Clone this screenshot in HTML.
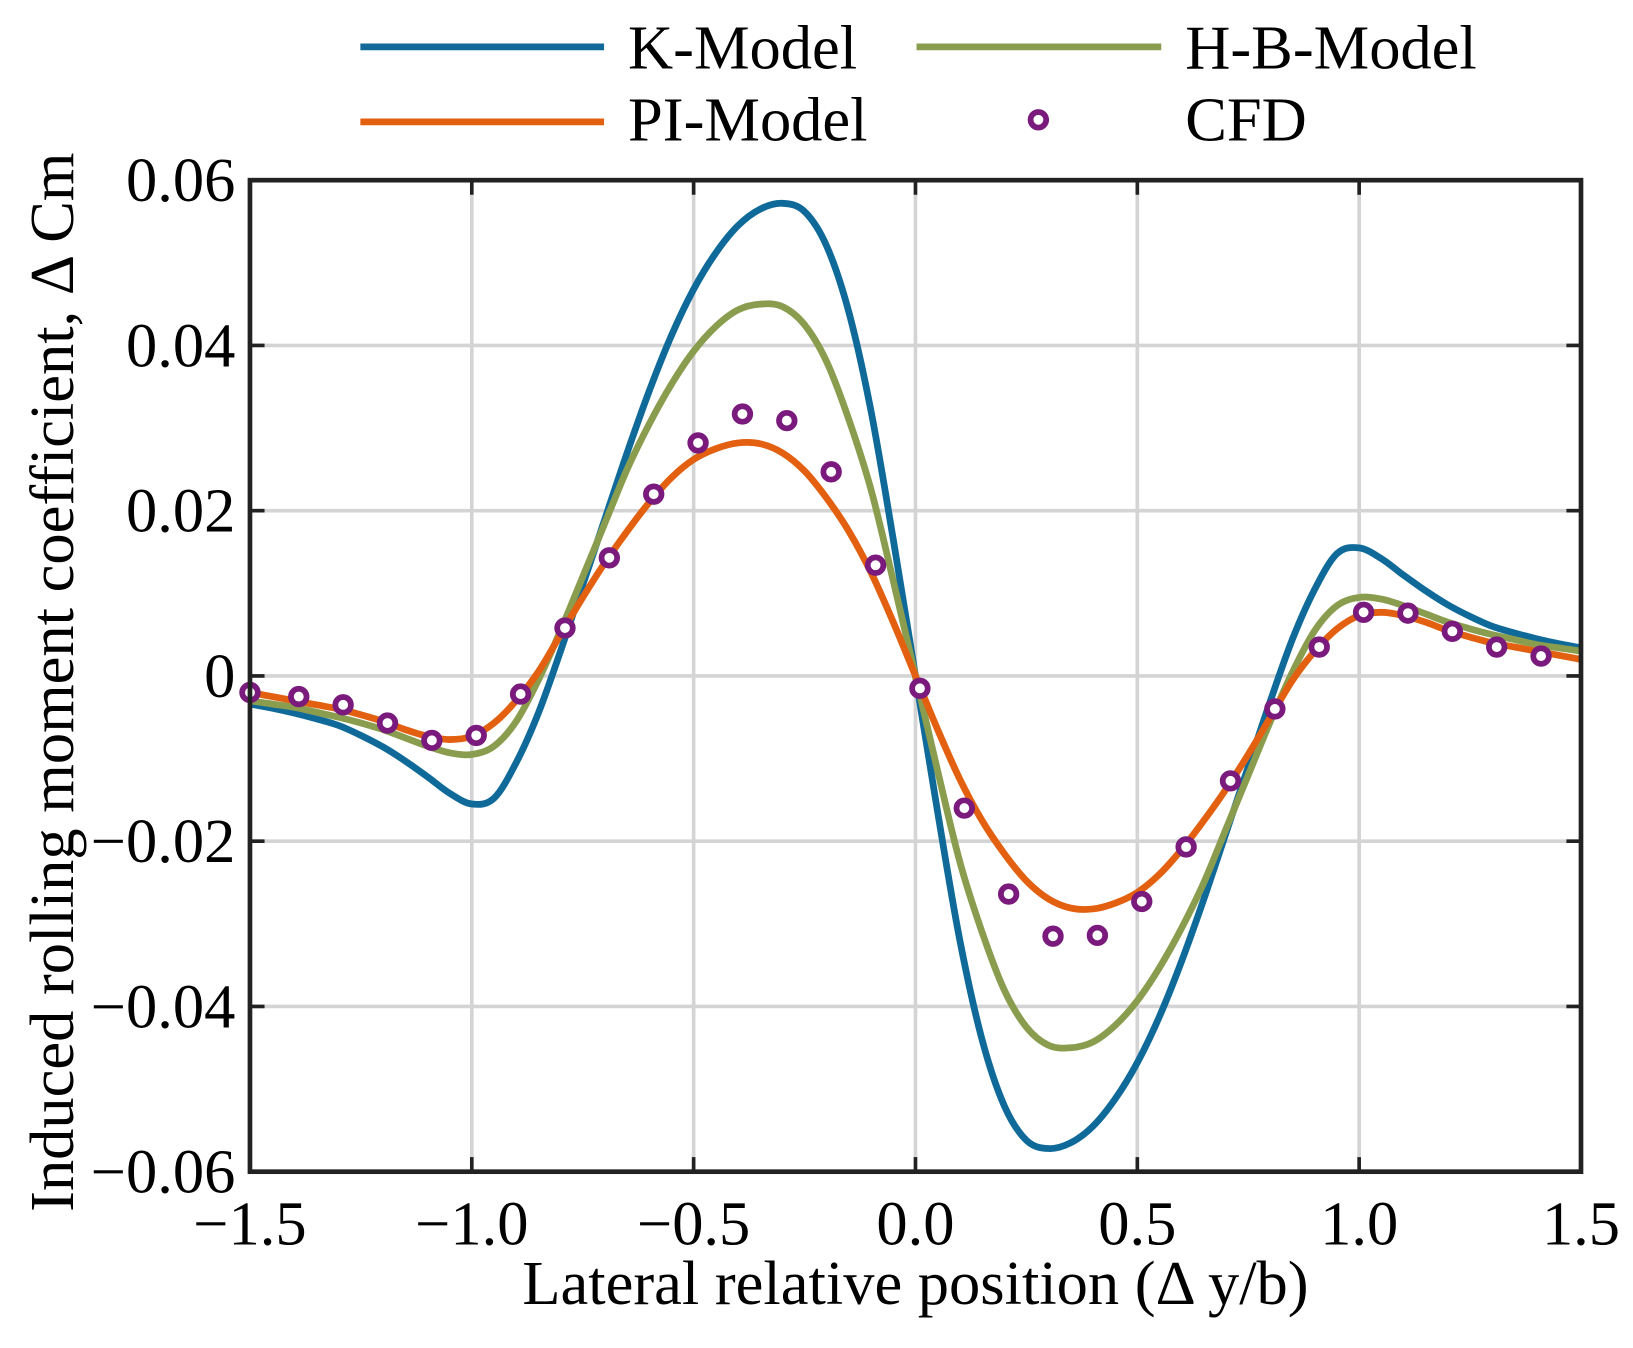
<!DOCTYPE html>
<html><head><meta charset="utf-8"><style>
body{margin:0;background:#fff;}
svg{display:block;font-family:"Liberation Serif",serif;}
</style></head><body>
<svg id="chart" width="1633" height="1348" viewBox="0 0 1633 1348" xmlns="http://www.w3.org/2000/svg">
<rect width="1633" height="1348" fill="#fff"/>
<g transform="scale(1.0415)">
<g id="grid"></g>
<g id="series"></g>
<g id="axes"></g>
<g id="legend">
<line x1="346" y1="45" x2="580" y2="45" stroke="#0F6A9A" stroke-width="6.5"/>
<text x="603" y="66" font-size="60">K-Model</text>
<line x1="880" y1="45" x2="1115" y2="45" stroke="#8A9D4E" stroke-width="6.5"/>
<text x="1138" y="66" font-size="60">H-B-Model</text>
<line x1="346" y1="117" x2="580" y2="117" stroke="#E2600F" stroke-width="6.5"/>
<text x="603" y="135" font-size="60">PI-Model</text>
<circle cx="997" cy="115" r="7.5" fill="#fff" stroke="#7A1A7D" stroke-width="5.5"/>
<text x="1138" y="135" font-size="60">CFD</text>
</g>
<text x="879" y="1252" font-size="60" text-anchor="middle">Lateral relative position (Δ y/b)</text>
<text transform="translate(70,655) rotate(-90)" font-size="60" text-anchor="middle">Induced rolling moment coefficient, Δ Cm</text>
</g>
</svg>
<script>
const xTicks=[-1.5,-1.0,-0.5,0.0,0.5,1.0,1.5];
const xTickLabels=["−1.5","−1.0","−0.5","0.0","0.5","1.0","1.5"];
const yTicks=[-0.06,-0.04,-0.02,0,0.02,0.04,0.06];
const yTickLabels=["−0.06","−0.04","−0.02","0","0.02","0.04","0.06"];
const curveX=[-1.5,-1.45,-1.4,-1.35,-1.3,-1.25,-1.2,-1.15,-1.1,-1.05,-1.0,-0.95,-0.9,-0.85,-0.8,-0.75,-0.7,-0.65,-0.6,-0.55,-0.5,-0.45,-0.4,-0.35,-0.3,-0.25,-0.2,-0.15,-0.1,-0.05,0,0.05,0.1,0.15,0.2,0.25,0.3,0.35,0.4,0.45,0.5,0.55,0.6,0.65,0.7,0.75,0.8,0.85,0.9,0.95,1.0,1.05,1.1,1.15,1.2,1.25,1.3,1.35,1.4,1.45,1.5];
const kY=[-0.0034,-0.0039,-0.0045,-0.0052,-0.006,-0.0072,-0.0086,-0.0103,-0.0122,-0.0142,-0.0155,-0.0148,-0.0105,-0.0045,0.003,0.011,0.019,0.027,0.0345,0.0412,0.0468,0.0512,0.0545,0.0565,0.0572,0.0562,0.052,0.044,0.032,0.0165,0,-0.0165,-0.032,-0.044,-0.052,-0.0562,-0.0572,-0.0565,-0.0545,-0.0512,-0.0468,-0.0412,-0.0345,-0.027,-0.019,-0.011,-0.003,0.0045,0.0105,0.0148,0.0155,0.0142,0.0122,0.0103,0.0086,0.0072,0.006,0.0052,0.0045,0.0039,0.0034];
const hbY=[-0.003,-0.0034,-0.0038,-0.0044,-0.005,-0.0057,-0.0065,-0.0075,-0.0085,-0.0093,-0.0095,-0.0085,-0.0055,-0.0005,0.0055,0.012,0.0185,0.025,0.0305,0.0353,0.0393,0.0423,0.0443,0.045,0.0447,0.0425,0.038,0.031,0.0225,0.0115,0,-0.0115,-0.0225,-0.031,-0.038,-0.0425,-0.0447,-0.045,-0.0443,-0.0423,-0.0393,-0.0353,-0.0305,-0.025,-0.0185,-0.012,-0.0055,0.0005,0.0055,0.0085,0.0095,0.0093,0.0085,0.0075,0.0065,0.0057,0.005,0.0044,0.0038,0.0034,0.003];
const piY=[-0.002,-0.0025,-0.003,-0.0035,-0.004,-0.0047,-0.0055,-0.0065,-0.0073,-0.0077,-0.0073,-0.0057,-0.003,0.0005,0.005,0.0095,0.0137,0.0175,0.021,0.024,0.0262,0.0275,0.0282,0.0281,0.027,0.0248,0.0215,0.0175,0.0125,0.0065,0,-0.0065,-0.0125,-0.0175,-0.0215,-0.0248,-0.027,-0.0281,-0.0282,-0.0275,-0.0262,-0.024,-0.021,-0.0175,-0.0137,-0.0095,-0.005,-0.0005,0.003,0.0057,0.0073,0.0077,0.0073,0.0065,0.0055,0.0047,0.004,0.0035,0.003,0.0025,0.002];
const cfdX=[-1.5,-1.39,-1.29,-1.19,-1.09,-0.99,-0.89,-0.79,-0.69,-0.59,-0.49,-0.39,-0.29,-0.19,-0.09,0.01,0.11,0.21,0.31,0.41,0.51,0.61,0.71,0.81,0.91,1.01,1.11,1.21,1.31,1.41];
const cfdY=[-0.002,-0.0025,-0.0035,-0.0057,-0.0078,-0.0072,-0.0022,0.0058,0.0143,0.022,0.0282,0.0317,0.0309,0.0247,0.0134,-0.0015,-0.016,-0.0264,-0.0315,-0.0314,-0.0273,-0.0207,-0.0127,-0.004,0.0035,0.0077,0.0076,0.0054,0.0035,0.0024];

const L=240,R=1518,T=173,B=1125;
const sx=v=>L+(v+1.5)/3*(R-L);
const sy=v=>B-(v+0.06)/0.12*(B-T);
const NS="http://www.w3.org/2000/svg";
function mk(tag,attrs,parent){const e=document.createElementNS(NS,tag);for(const k in attrs)e.setAttribute(k,attrs[k]);parent.appendChild(e);return e;}
const grid=document.getElementById('grid'),axes=document.getElementById('axes'),ser=document.getElementById('series');
xTicks.forEach((t,i)=>{
  const x=sx(t);
  if(i>0&&i<xTicks.length-1){const g=mk('line',{x1:x,y1:T,x2:x,y2:B,stroke:'#d4d4d4','stroke-width':3.5},grid);
  
  }
  const a=mk('line',{x1:x,y1:B,x2:x,y2:B-14,stroke:'#222','stroke-width':3.5},axes);
  
  
  const b=mk('line',{x1:x,y1:T,x2:x,y2:T+14,stroke:'#222','stroke-width':3.5},axes);
  
  
  const tx=mk('text',{x:x,y:1195,'font-size':60,'text-anchor':'middle'},axes);tx.textContent=xTickLabels[i];
  
  
});
yTicks.forEach((t,i)=>{
  const y=sy(t);
  if(i>0&&i<yTicks.length-1){const g=mk('line',{x1:L,y1:y,x2:R,y2:y,stroke:'#d4d4d4','stroke-width':3.5},grid);
  
  }
  const a=mk('line',{x1:L,y1:y,x2:L+14,y2:y,stroke:'#222','stroke-width':3.5},axes);
  
  
  const b=mk('line',{x1:R,y1:y,x2:R-14,y2:y,stroke:'#222','stroke-width':3.5},axes);
  
  
  const tx=mk('text',{x:226,y:y+20,'font-size':60,'text-anchor':'end'},axes);tx.textContent=yTickLabels[i];
  
  
});
const frame=mk('rect',{x:L,y:T,width:R-L,height:B-T,fill:'none',stroke:'#222','stroke-width':4.5},axes);


function smooth(xs,ys){
  const p=xs.map((x,i)=>[sx(x),sy(ys[i])]);
  let d='M'+p[0][0]+','+p[0][1];
  for(let i=0;i<p.length-1;i++){
    const p0=p[Math.max(0,i-1)],p1=p[i],p2=p[i+1],p3=p[Math.min(p.length-1,i+2)];
    const c1=[p1[0]+(p2[0]-p0[0])/6,p1[1]+(p2[1]-p0[1])/6];
    const c2=[p2[0]-(p3[0]-p1[0])/6,p2[1]-(p3[1]-p1[1])/6];
    d+=' C'+c1[0]+','+c1[1]+' '+c2[0]+','+c2[1]+' '+p2[0]+','+p2[1];
  }
  return d;
}
const kp=mk('path',{d:smooth(curveX,kY),fill:'none',stroke:'#0F6A9A','stroke-width':6.5},ser);


const hp=mk('path',{d:smooth(curveX,hbY),fill:'none',stroke:'#8A9D4E','stroke-width':6.5},ser);


const pp=mk('path',{d:smooth(curveX,piY),fill:'none',stroke:'#E2600F','stroke-width':6.5},ser);


cfdX.forEach((x,i)=>{
  const c=mk('circle',{cx:sx(x),cy:sy(cfdY[i]),r:7.5,fill:'#fff',stroke:'#7A1A7D','stroke-width':5.5},ser);
  
  
});
</script>
</body></html>
